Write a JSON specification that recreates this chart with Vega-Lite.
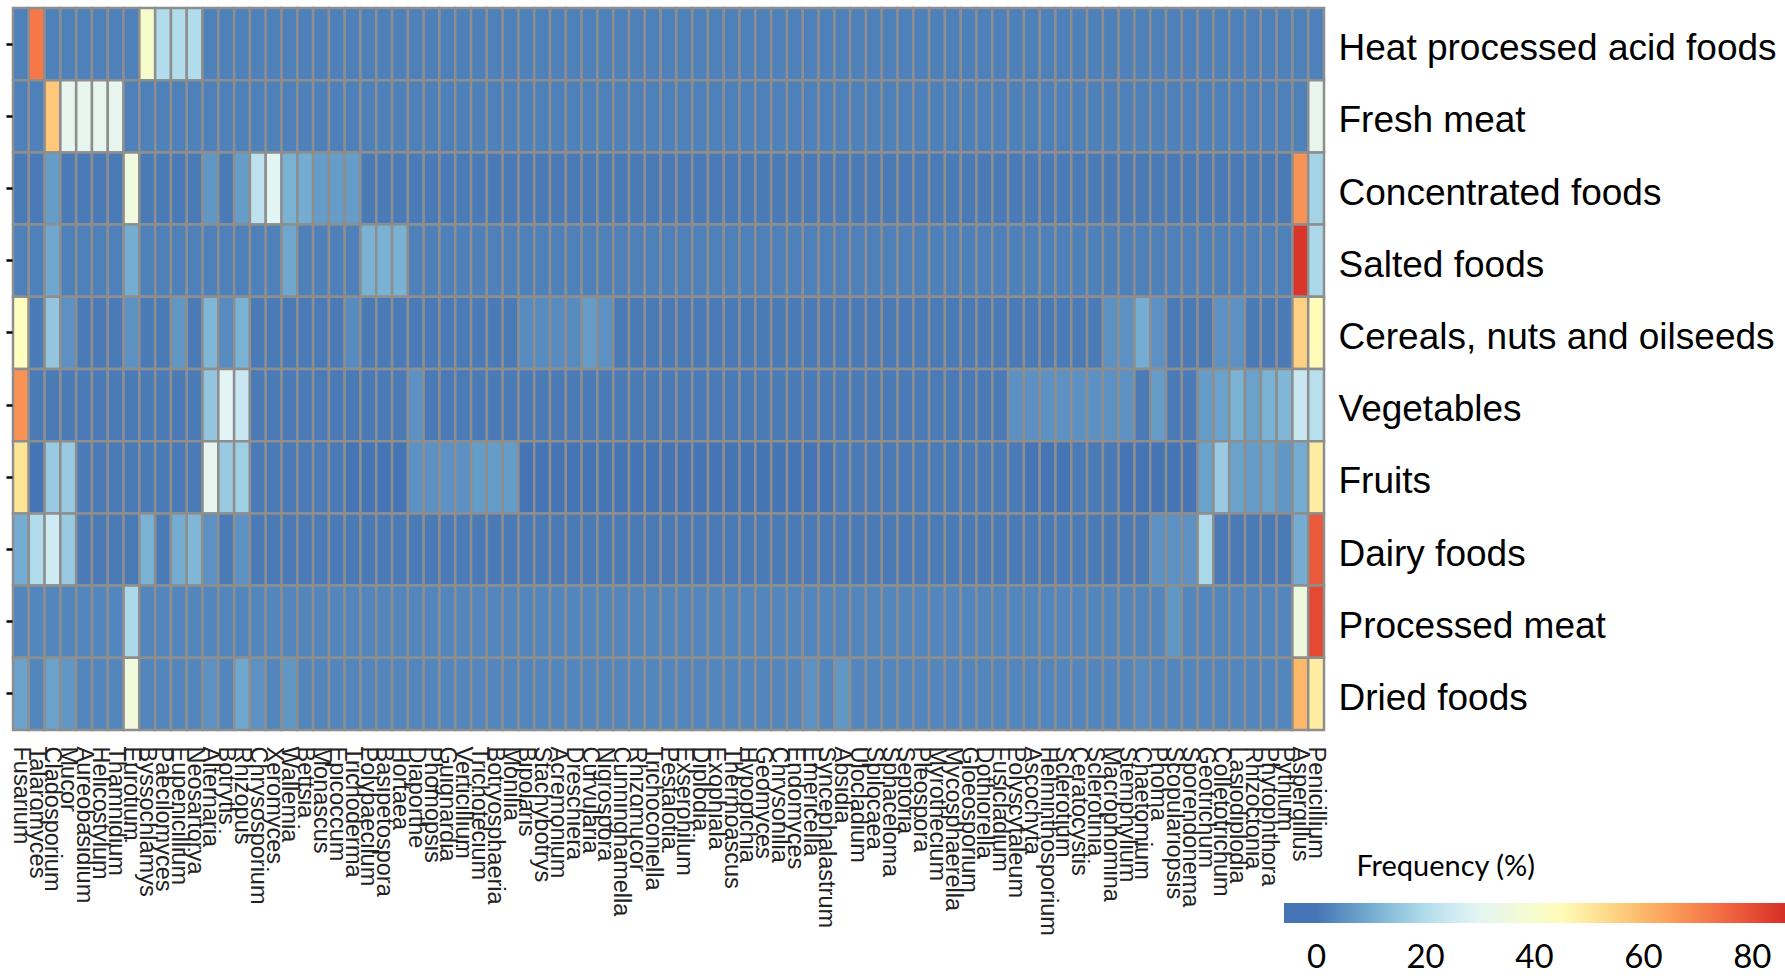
{
"$schema": "https://vega.github.io/schema/vega-lite/v6.json",
"width": 1311, "height": 722,
"autosize": {"type": "none"},
"padding": {"left": 13, "top": 8, "right": 461, "bottom": 246},
"background": "white",
"config": {"view": {"stroke": null}, "font": "Liberation Sans"},
"datasets": {"foods": [
{"f":1,"food":"Heat processed acid foods"},{"f":2,"food":"Fresh meat"},{"f":3,"food":"Concentrated foods"},{"f":4,"food":"Salted foods"},{"f":5,"food":"Cereals, nuts and oilseeds"},{"f":6,"food":"Vegetables"},{"f":7,"food":"Fruits"},{"f":8,"food":"Dairy foods"},{"f":9,"food":"Processed meat"},{"f":10,"food":"Dried foods"}
]},
"data": {"values": [
{"f":1,"genus":"Fusarium","pct":2},{"f":1,"genus":"Talaromyces","pct":72},{"f":1,"genus":"Cladosporium","pct":2},{"f":1,"genus":"Mucor","pct":2},{"f":1,"genus":"Aureobasidium","pct":2},{"f":1,"genus":"Helicostylum","pct":2},{"f":1,"genus":"Thamnidium","pct":2},{"f":1,"genus":"Eurotium","pct":2},{"f":1,"genus":"Byssochlamys","pct":40},{"f":1,"genus":"Paecilomyces","pct":20},{"f":1,"genus":"Eupenicillium","pct":20},{"f":1,"genus":"Neosartorya","pct":20},{"f":1,"genus":"Alternaria","pct":2},{"f":1,"genus":"Botrytis","pct":2},{"f":1,"genus":"Rhizopus","pct":2},{"f":1,"genus":"Chrysosporium","pct":2},{"f":1,"genus":"Xeromyces","pct":2},{"f":1,"genus":"Wallemia","pct":2},{"f":1,"genus":"Bettsia","pct":2},{"f":1,"genus":"Monascus","pct":2},{"f":1,"genus":"Epicoccum","pct":2},{"f":1,"genus":"Trichoderma","pct":2},{"f":1,"genus":"Polypaecilum","pct":2},{"f":1,"genus":"Basipetospora","pct":2},{"f":1,"genus":"Hortaea","pct":2},{"f":1,"genus":"Diaporthe","pct":2},{"f":1,"genus":"Phomopsis","pct":2},{"f":1,"genus":"Guignardia","pct":2},{"f":1,"genus":"Verticillium","pct":2},{"f":1,"genus":"Trichotecium","pct":2},{"f":1,"genus":"Botryosphaeria","pct":2},{"f":1,"genus":"Monilia","pct":2},{"f":1,"genus":"Bipolaris","pct":2},{"f":1,"genus":"Stachybotrys","pct":2},{"f":1,"genus":"Acremonium","pct":2},{"f":1,"genus":"Dreschiera","pct":2},{"f":1,"genus":"Curvularia","pct":2},{"f":1,"genus":"Nigrospora","pct":2},{"f":1,"genus":"Cunninghamella","pct":2},{"f":1,"genus":"Rhizomucor","pct":2},{"f":1,"genus":"Trichoconiella","pct":2},{"f":1,"genus":"Pestalotia","pct":2},{"f":1,"genus":"Exserohilum","pct":2},{"f":1,"genus":"Diplodia","pct":2},{"f":1,"genus":"Exophiala","pct":2},{"f":1,"genus":"Thermoascus","pct":2},{"f":1,"genus":"Hypopichia","pct":2},{"f":1,"genus":"Geomyces","pct":2},{"f":1,"genus":"Chrysonilia","pct":2},{"f":1,"genus":"Endomyces","pct":2},{"f":1,"genus":"Emericella","pct":2},{"f":1,"genus":"Syncephalastrum","pct":2},{"f":1,"genus":"Absidia","pct":2},{"f":1,"genus":"Ulocladium","pct":2},{"f":1,"genus":"Spilocaea","pct":2},{"f":1,"genus":"Sphaceloma","pct":2},{"f":1,"genus":"Septoria","pct":2},{"f":1,"genus":"Pleospora","pct":2},{"f":1,"genus":"Myrothecium","pct":2},{"f":1,"genus":"Mycosphaerella","pct":2},{"f":1,"genus":"Gloeosporium","pct":2},{"f":1,"genus":"Dothiorella","pct":2},{"f":1,"genus":"Fusicladium","pct":2},{"f":1,"genus":"Polyscytaleum","pct":2},{"f":1,"genus":"Ascochyta","pct":2},{"f":1,"genus":"Helminthosporium","pct":2},{"f":1,"genus":"Sclerotium","pct":2},{"f":1,"genus":"Ceratocystis","pct":2},{"f":1,"genus":"Sclerotinia","pct":2},{"f":1,"genus":"Macrophomina","pct":2},{"f":1,"genus":"Stemphylium","pct":2},{"f":1,"genus":"Chaetomium","pct":2},{"f":1,"genus":"Phoma","pct":2},{"f":1,"genus":"Scopulariopsis","pct":2},{"f":1,"genus":"Sporendonema","pct":2},{"f":1,"genus":"Geotrichum","pct":2},{"f":1,"genus":"Colletotrichum","pct":2},{"f":1,"genus":"Lasiodiplodia","pct":2},{"f":1,"genus":"Rhizoctonia","pct":2},{"f":1,"genus":"Phytophthora","pct":2},{"f":1,"genus":"Pythium","pct":2},{"f":1,"genus":"Aspergillus","pct":2},{"f":1,"genus":"Penicillium","pct":2},
{"f":2,"genus":"Fusarium","pct":2},{"f":2,"genus":"Talaromyces","pct":2},{"f":2,"genus":"Cladosporium","pct":57},{"f":2,"genus":"Mucor","pct":31},{"f":2,"genus":"Aureobasidium","pct":31},{"f":2,"genus":"Helicostylum","pct":31},{"f":2,"genus":"Thamnidium","pct":31},{"f":2,"genus":"Eurotium","pct":2},{"f":2,"genus":"Byssochlamys","pct":2},{"f":2,"genus":"Paecilomyces","pct":2},{"f":2,"genus":"Eupenicillium","pct":2},{"f":2,"genus":"Neosartorya","pct":2},{"f":2,"genus":"Alternaria","pct":2},{"f":2,"genus":"Botrytis","pct":2},{"f":2,"genus":"Rhizopus","pct":2},{"f":2,"genus":"Chrysosporium","pct":2},{"f":2,"genus":"Xeromyces","pct":2},{"f":2,"genus":"Wallemia","pct":2},{"f":2,"genus":"Bettsia","pct":2},{"f":2,"genus":"Monascus","pct":2},{"f":2,"genus":"Epicoccum","pct":2},{"f":2,"genus":"Trichoderma","pct":2},{"f":2,"genus":"Polypaecilum","pct":2},{"f":2,"genus":"Basipetospora","pct":2},{"f":2,"genus":"Hortaea","pct":2},{"f":2,"genus":"Diaporthe","pct":2},{"f":2,"genus":"Phomopsis","pct":2},{"f":2,"genus":"Guignardia","pct":2},{"f":2,"genus":"Verticillium","pct":2},{"f":2,"genus":"Trichotecium","pct":2},{"f":2,"genus":"Botryosphaeria","pct":2},{"f":2,"genus":"Monilia","pct":2},{"f":2,"genus":"Bipolaris","pct":2},{"f":2,"genus":"Stachybotrys","pct":2},{"f":2,"genus":"Acremonium","pct":2},{"f":2,"genus":"Dreschiera","pct":2},{"f":2,"genus":"Curvularia","pct":2},{"f":2,"genus":"Nigrospora","pct":2},{"f":2,"genus":"Cunninghamella","pct":2},{"f":2,"genus":"Rhizomucor","pct":2},{"f":2,"genus":"Trichoconiella","pct":2},{"f":2,"genus":"Pestalotia","pct":2},{"f":2,"genus":"Exserohilum","pct":2},{"f":2,"genus":"Diplodia","pct":2},{"f":2,"genus":"Exophiala","pct":2},{"f":2,"genus":"Thermoascus","pct":2},{"f":2,"genus":"Hypopichia","pct":2},{"f":2,"genus":"Geomyces","pct":2},{"f":2,"genus":"Chrysonilia","pct":2},{"f":2,"genus":"Endomyces","pct":2},{"f":2,"genus":"Emericella","pct":2},{"f":2,"genus":"Syncephalastrum","pct":2},{"f":2,"genus":"Absidia","pct":2},{"f":2,"genus":"Ulocladium","pct":2},{"f":2,"genus":"Spilocaea","pct":2},{"f":2,"genus":"Sphaceloma","pct":2},{"f":2,"genus":"Septoria","pct":2},{"f":2,"genus":"Pleospora","pct":2},{"f":2,"genus":"Myrothecium","pct":2},{"f":2,"genus":"Mycosphaerella","pct":2},{"f":2,"genus":"Gloeosporium","pct":2},{"f":2,"genus":"Dothiorella","pct":2},{"f":2,"genus":"Fusicladium","pct":2},{"f":2,"genus":"Polyscytaleum","pct":2},{"f":2,"genus":"Ascochyta","pct":2},{"f":2,"genus":"Helminthosporium","pct":2},{"f":2,"genus":"Sclerotium","pct":2},{"f":2,"genus":"Ceratocystis","pct":2},{"f":2,"genus":"Sclerotinia","pct":2},{"f":2,"genus":"Macrophomina","pct":2},{"f":2,"genus":"Stemphylium","pct":2},{"f":2,"genus":"Chaetomium","pct":2},{"f":2,"genus":"Phoma","pct":2},{"f":2,"genus":"Scopulariopsis","pct":2},{"f":2,"genus":"Sporendonema","pct":2},{"f":2,"genus":"Geotrichum","pct":2},{"f":2,"genus":"Colletotrichum","pct":2},{"f":2,"genus":"Lasiodiplodia","pct":2},{"f":2,"genus":"Rhizoctonia","pct":2},{"f":2,"genus":"Phytophthora","pct":2},{"f":2,"genus":"Pythium","pct":2},{"f":2,"genus":"Aspergillus","pct":2},{"f":2,"genus":"Penicillium","pct":31},
{"f":3,"genus":"Fusarium","pct":1},{"f":3,"genus":"Talaromyces","pct":1},{"f":3,"genus":"Cladosporium","pct":7},{"f":3,"genus":"Mucor","pct":1},{"f":3,"genus":"Aureobasidium","pct":1},{"f":3,"genus":"Helicostylum","pct":1},{"f":3,"genus":"Thamnidium","pct":1},{"f":3,"genus":"Eurotium","pct":36},{"f":3,"genus":"Byssochlamys","pct":1},{"f":3,"genus":"Paecilomyces","pct":1},{"f":3,"genus":"Eupenicillium","pct":1},{"f":3,"genus":"Neosartorya","pct":1},{"f":3,"genus":"Alternaria","pct":6},{"f":3,"genus":"Botrytis","pct":1},{"f":3,"genus":"Rhizopus","pct":7},{"f":3,"genus":"Chrysosporium","pct":22},{"f":3,"genus":"Xeromyces","pct":29},{"f":3,"genus":"Wallemia","pct":11},{"f":3,"genus":"Bettsia","pct":10},{"f":3,"genus":"Monascus","pct":7},{"f":3,"genus":"Epicoccum","pct":7},{"f":3,"genus":"Trichoderma","pct":7},{"f":3,"genus":"Polypaecilum","pct":1},{"f":3,"genus":"Basipetospora","pct":1},{"f":3,"genus":"Hortaea","pct":1},{"f":3,"genus":"Diaporthe","pct":1},{"f":3,"genus":"Phomopsis","pct":1},{"f":3,"genus":"Guignardia","pct":1},{"f":3,"genus":"Verticillium","pct":1},{"f":3,"genus":"Trichotecium","pct":1},{"f":3,"genus":"Botryosphaeria","pct":1},{"f":3,"genus":"Monilia","pct":1},{"f":3,"genus":"Bipolaris","pct":1},{"f":3,"genus":"Stachybotrys","pct":1},{"f":3,"genus":"Acremonium","pct":1},{"f":3,"genus":"Dreschiera","pct":1},{"f":3,"genus":"Curvularia","pct":1},{"f":3,"genus":"Nigrospora","pct":1},{"f":3,"genus":"Cunninghamella","pct":1},{"f":3,"genus":"Rhizomucor","pct":1},{"f":3,"genus":"Trichoconiella","pct":1},{"f":3,"genus":"Pestalotia","pct":1},{"f":3,"genus":"Exserohilum","pct":1},{"f":3,"genus":"Diplodia","pct":1},{"f":3,"genus":"Exophiala","pct":1},{"f":3,"genus":"Thermoascus","pct":1},{"f":3,"genus":"Hypopichia","pct":1},{"f":3,"genus":"Geomyces","pct":1},{"f":3,"genus":"Chrysonilia","pct":1},{"f":3,"genus":"Endomyces","pct":1},{"f":3,"genus":"Emericella","pct":1},{"f":3,"genus":"Syncephalastrum","pct":1},{"f":3,"genus":"Absidia","pct":1},{"f":3,"genus":"Ulocladium","pct":1},{"f":3,"genus":"Spilocaea","pct":1},{"f":3,"genus":"Sphaceloma","pct":1},{"f":3,"genus":"Septoria","pct":1},{"f":3,"genus":"Pleospora","pct":1},{"f":3,"genus":"Myrothecium","pct":1},{"f":3,"genus":"Mycosphaerella","pct":1},{"f":3,"genus":"Gloeosporium","pct":1},{"f":3,"genus":"Dothiorella","pct":1},{"f":3,"genus":"Fusicladium","pct":1},{"f":3,"genus":"Polyscytaleum","pct":1},{"f":3,"genus":"Ascochyta","pct":1},{"f":3,"genus":"Helminthosporium","pct":1},{"f":3,"genus":"Sclerotium","pct":1},{"f":3,"genus":"Ceratocystis","pct":1},{"f":3,"genus":"Sclerotinia","pct":1},{"f":3,"genus":"Macrophomina","pct":1},{"f":3,"genus":"Stemphylium","pct":1},{"f":3,"genus":"Chaetomium","pct":1},{"f":3,"genus":"Phoma","pct":1},{"f":3,"genus":"Scopulariopsis","pct":1},{"f":3,"genus":"Sporendonema","pct":1},{"f":3,"genus":"Geotrichum","pct":1},{"f":3,"genus":"Colletotrichum","pct":1},{"f":3,"genus":"Lasiodiplodia","pct":1},{"f":3,"genus":"Rhizoctonia","pct":1},{"f":3,"genus":"Phytophthora","pct":1},{"f":3,"genus":"Pythium","pct":1},{"f":3,"genus":"Aspergillus","pct":67},{"f":3,"genus":"Penicillium","pct":18},
{"f":4,"genus":"Fusarium","pct":2},{"f":4,"genus":"Talaromyces","pct":2},{"f":4,"genus":"Cladosporium","pct":9},{"f":4,"genus":"Mucor","pct":2},{"f":4,"genus":"Aureobasidium","pct":2},{"f":4,"genus":"Helicostylum","pct":2},{"f":4,"genus":"Thamnidium","pct":2},{"f":4,"genus":"Eurotium","pct":10},{"f":4,"genus":"Byssochlamys","pct":2},{"f":4,"genus":"Paecilomyces","pct":2},{"f":4,"genus":"Eupenicillium","pct":2},{"f":4,"genus":"Neosartorya","pct":2},{"f":4,"genus":"Alternaria","pct":2},{"f":4,"genus":"Botrytis","pct":2},{"f":4,"genus":"Rhizopus","pct":2},{"f":4,"genus":"Chrysosporium","pct":2},{"f":4,"genus":"Xeromyces","pct":2},{"f":4,"genus":"Wallemia","pct":9},{"f":4,"genus":"Bettsia","pct":2},{"f":4,"genus":"Monascus","pct":2},{"f":4,"genus":"Epicoccum","pct":2},{"f":4,"genus":"Trichoderma","pct":2},{"f":4,"genus":"Polypaecilum","pct":11},{"f":4,"genus":"Basipetospora","pct":11},{"f":4,"genus":"Hortaea","pct":11},{"f":4,"genus":"Diaporthe","pct":2},{"f":4,"genus":"Phomopsis","pct":2},{"f":4,"genus":"Guignardia","pct":2},{"f":4,"genus":"Verticillium","pct":2},{"f":4,"genus":"Trichotecium","pct":2},{"f":4,"genus":"Botryosphaeria","pct":2},{"f":4,"genus":"Monilia","pct":2},{"f":4,"genus":"Bipolaris","pct":2},{"f":4,"genus":"Stachybotrys","pct":2},{"f":4,"genus":"Acremonium","pct":2},{"f":4,"genus":"Dreschiera","pct":2},{"f":4,"genus":"Curvularia","pct":2},{"f":4,"genus":"Nigrospora","pct":2},{"f":4,"genus":"Cunninghamella","pct":2},{"f":4,"genus":"Rhizomucor","pct":2},{"f":4,"genus":"Trichoconiella","pct":2},{"f":4,"genus":"Pestalotia","pct":2},{"f":4,"genus":"Exserohilum","pct":2},{"f":4,"genus":"Diplodia","pct":2},{"f":4,"genus":"Exophiala","pct":2},{"f":4,"genus":"Thermoascus","pct":2},{"f":4,"genus":"Hypopichia","pct":2},{"f":4,"genus":"Geomyces","pct":2},{"f":4,"genus":"Chrysonilia","pct":2},{"f":4,"genus":"Endomyces","pct":2},{"f":4,"genus":"Emericella","pct":2},{"f":4,"genus":"Syncephalastrum","pct":2},{"f":4,"genus":"Absidia","pct":2},{"f":4,"genus":"Ulocladium","pct":2},{"f":4,"genus":"Spilocaea","pct":2},{"f":4,"genus":"Sphaceloma","pct":2},{"f":4,"genus":"Septoria","pct":2},{"f":4,"genus":"Pleospora","pct":2},{"f":4,"genus":"Myrothecium","pct":2},{"f":4,"genus":"Mycosphaerella","pct":2},{"f":4,"genus":"Gloeosporium","pct":2},{"f":4,"genus":"Dothiorella","pct":2},{"f":4,"genus":"Fusicladium","pct":2},{"f":4,"genus":"Polyscytaleum","pct":2},{"f":4,"genus":"Ascochyta","pct":2},{"f":4,"genus":"Helminthosporium","pct":2},{"f":4,"genus":"Sclerotium","pct":2},{"f":4,"genus":"Ceratocystis","pct":2},{"f":4,"genus":"Sclerotinia","pct":2},{"f":4,"genus":"Macrophomina","pct":2},{"f":4,"genus":"Stemphylium","pct":2},{"f":4,"genus":"Chaetomium","pct":2},{"f":4,"genus":"Phoma","pct":2},{"f":4,"genus":"Scopulariopsis","pct":2},{"f":4,"genus":"Sporendonema","pct":2},{"f":4,"genus":"Geotrichum","pct":2},{"f":4,"genus":"Colletotrichum","pct":2},{"f":4,"genus":"Lasiodiplodia","pct":2},{"f":4,"genus":"Rhizoctonia","pct":2},{"f":4,"genus":"Phytophthora","pct":2},{"f":4,"genus":"Pythium","pct":2},{"f":4,"genus":"Aspergillus","pct":85},{"f":4,"genus":"Penicillium","pct":19},
{"f":5,"genus":"Fusarium","pct":44},{"f":5,"genus":"Talaromyces","pct":1},{"f":5,"genus":"Cladosporium","pct":15},{"f":5,"genus":"Mucor","pct":5},{"f":5,"genus":"Aureobasidium","pct":1},{"f":5,"genus":"Helicostylum","pct":1},{"f":5,"genus":"Thamnidium","pct":1},{"f":5,"genus":"Eurotium","pct":5},{"f":5,"genus":"Byssochlamys","pct":1},{"f":5,"genus":"Paecilomyces","pct":1},{"f":5,"genus":"Eupenicillium","pct":6},{"f":5,"genus":"Neosartorya","pct":1},{"f":5,"genus":"Alternaria","pct":12},{"f":5,"genus":"Botrytis","pct":4},{"f":5,"genus":"Rhizopus","pct":11},{"f":5,"genus":"Chrysosporium","pct":1},{"f":5,"genus":"Xeromyces","pct":1},{"f":5,"genus":"Wallemia","pct":1},{"f":5,"genus":"Bettsia","pct":1},{"f":5,"genus":"Monascus","pct":1},{"f":5,"genus":"Epicoccum","pct":1},{"f":5,"genus":"Trichoderma","pct":4},{"f":5,"genus":"Polypaecilum","pct":1},{"f":5,"genus":"Basipetospora","pct":1},{"f":5,"genus":"Hortaea","pct":1},{"f":5,"genus":"Diaporthe","pct":1},{"f":5,"genus":"Phomopsis","pct":1},{"f":5,"genus":"Guignardia","pct":1},{"f":5,"genus":"Verticillium","pct":1},{"f":5,"genus":"Trichotecium","pct":1},{"f":5,"genus":"Botryosphaeria","pct":1},{"f":5,"genus":"Monilia","pct":1},{"f":5,"genus":"Bipolaris","pct":4},{"f":5,"genus":"Stachybotrys","pct":4},{"f":5,"genus":"Acremonium","pct":4},{"f":5,"genus":"Dreschiera","pct":4},{"f":5,"genus":"Curvularia","pct":7},{"f":5,"genus":"Nigrospora","pct":5},{"f":5,"genus":"Cunninghamella","pct":1},{"f":5,"genus":"Rhizomucor","pct":1},{"f":5,"genus":"Trichoconiella","pct":1},{"f":5,"genus":"Pestalotia","pct":1},{"f":5,"genus":"Exserohilum","pct":1},{"f":5,"genus":"Diplodia","pct":1},{"f":5,"genus":"Exophiala","pct":1},{"f":5,"genus":"Thermoascus","pct":1},{"f":5,"genus":"Hypopichia","pct":1},{"f":5,"genus":"Geomyces","pct":1},{"f":5,"genus":"Chrysonilia","pct":1},{"f":5,"genus":"Endomyces","pct":1},{"f":5,"genus":"Emericella","pct":1},{"f":5,"genus":"Syncephalastrum","pct":1},{"f":5,"genus":"Absidia","pct":1},{"f":5,"genus":"Ulocladium","pct":1},{"f":5,"genus":"Spilocaea","pct":1},{"f":5,"genus":"Sphaceloma","pct":1},{"f":5,"genus":"Septoria","pct":1},{"f":5,"genus":"Pleospora","pct":1},{"f":5,"genus":"Myrothecium","pct":1},{"f":5,"genus":"Mycosphaerella","pct":1},{"f":5,"genus":"Gloeosporium","pct":1},{"f":5,"genus":"Dothiorella","pct":1},{"f":5,"genus":"Fusicladium","pct":1},{"f":5,"genus":"Polyscytaleum","pct":1},{"f":5,"genus":"Ascochyta","pct":1},{"f":5,"genus":"Helminthosporium","pct":1},{"f":5,"genus":"Sclerotium","pct":1},{"f":5,"genus":"Ceratocystis","pct":1},{"f":5,"genus":"Sclerotinia","pct":1},{"f":5,"genus":"Macrophomina","pct":5},{"f":5,"genus":"Stemphylium","pct":5},{"f":5,"genus":"Chaetomium","pct":10},{"f":5,"genus":"Phoma","pct":5},{"f":5,"genus":"Scopulariopsis","pct":1},{"f":5,"genus":"Sporendonema","pct":1},{"f":5,"genus":"Geotrichum","pct":1},{"f":5,"genus":"Colletotrichum","pct":5},{"f":5,"genus":"Lasiodiplodia","pct":5},{"f":5,"genus":"Rhizoctonia","pct":1},{"f":5,"genus":"Phytophthora","pct":1},{"f":5,"genus":"Pythium","pct":1},{"f":5,"genus":"Aspergillus","pct":55},{"f":5,"genus":"Penicillium","pct":45},
{"f":6,"genus":"Fusarium","pct":67},{"f":6,"genus":"Talaromyces","pct":1},{"f":6,"genus":"Cladosporium","pct":1},{"f":6,"genus":"Mucor","pct":1},{"f":6,"genus":"Aureobasidium","pct":1},{"f":6,"genus":"Helicostylum","pct":1},{"f":6,"genus":"Thamnidium","pct":1},{"f":6,"genus":"Eurotium","pct":1},{"f":6,"genus":"Byssochlamys","pct":1},{"f":6,"genus":"Paecilomyces","pct":1},{"f":6,"genus":"Eupenicillium","pct":1},{"f":6,"genus":"Neosartorya","pct":1},{"f":6,"genus":"Alternaria","pct":15},{"f":6,"genus":"Botrytis","pct":29},{"f":6,"genus":"Rhizopus","pct":24},{"f":6,"genus":"Chrysosporium","pct":1},{"f":6,"genus":"Xeromyces","pct":1},{"f":6,"genus":"Wallemia","pct":1},{"f":6,"genus":"Bettsia","pct":1},{"f":6,"genus":"Monascus","pct":1},{"f":6,"genus":"Epicoccum","pct":1},{"f":6,"genus":"Trichoderma","pct":1},{"f":6,"genus":"Polypaecilum","pct":1},{"f":6,"genus":"Basipetospora","pct":1},{"f":6,"genus":"Hortaea","pct":1},{"f":6,"genus":"Diaporthe","pct":5},{"f":6,"genus":"Phomopsis","pct":1},{"f":6,"genus":"Guignardia","pct":1},{"f":6,"genus":"Verticillium","pct":1},{"f":6,"genus":"Trichotecium","pct":1},{"f":6,"genus":"Botryosphaeria","pct":1},{"f":6,"genus":"Monilia","pct":1},{"f":6,"genus":"Bipolaris","pct":1},{"f":6,"genus":"Stachybotrys","pct":1},{"f":6,"genus":"Acremonium","pct":1},{"f":6,"genus":"Dreschiera","pct":1},{"f":6,"genus":"Curvularia","pct":1},{"f":6,"genus":"Nigrospora","pct":1},{"f":6,"genus":"Cunninghamella","pct":1},{"f":6,"genus":"Rhizomucor","pct":1},{"f":6,"genus":"Trichoconiella","pct":1},{"f":6,"genus":"Pestalotia","pct":1},{"f":6,"genus":"Exserohilum","pct":1},{"f":6,"genus":"Diplodia","pct":1},{"f":6,"genus":"Exophiala","pct":1},{"f":6,"genus":"Thermoascus","pct":1},{"f":6,"genus":"Hypopichia","pct":1},{"f":6,"genus":"Geomyces","pct":1},{"f":6,"genus":"Chrysonilia","pct":1},{"f":6,"genus":"Endomyces","pct":1},{"f":6,"genus":"Emericella","pct":1},{"f":6,"genus":"Syncephalastrum","pct":1},{"f":6,"genus":"Absidia","pct":1},{"f":6,"genus":"Ulocladium","pct":1},{"f":6,"genus":"Spilocaea","pct":1},{"f":6,"genus":"Sphaceloma","pct":1},{"f":6,"genus":"Septoria","pct":1},{"f":6,"genus":"Pleospora","pct":1},{"f":6,"genus":"Myrothecium","pct":1},{"f":6,"genus":"Mycosphaerella","pct":1},{"f":6,"genus":"Gloeosporium","pct":1},{"f":6,"genus":"Dothiorella","pct":1},{"f":6,"genus":"Fusicladium","pct":1},{"f":6,"genus":"Polyscytaleum","pct":5},{"f":6,"genus":"Ascochyta","pct":5},{"f":6,"genus":"Helminthosporium","pct":5},{"f":6,"genus":"Sclerotium","pct":5},{"f":6,"genus":"Ceratocystis","pct":5},{"f":6,"genus":"Sclerotinia","pct":5},{"f":6,"genus":"Macrophomina","pct":5},{"f":6,"genus":"Stemphylium","pct":5},{"f":6,"genus":"Chaetomium","pct":1},{"f":6,"genus":"Phoma","pct":7},{"f":6,"genus":"Scopulariopsis","pct":1},{"f":6,"genus":"Sporendonema","pct":1},{"f":6,"genus":"Geotrichum","pct":7},{"f":6,"genus":"Colletotrichum","pct":8},{"f":6,"genus":"Lasiodiplodia","pct":11},{"f":6,"genus":"Rhizoctonia","pct":8},{"f":6,"genus":"Phytophthora","pct":11},{"f":6,"genus":"Pythium","pct":12},{"f":6,"genus":"Aspergillus","pct":24},{"f":6,"genus":"Penicillium","pct":21},
{"f":7,"genus":"Fusarium","pct":51},{"f":7,"genus":"Talaromyces","pct":0},{"f":7,"genus":"Cladosporium","pct":16},{"f":7,"genus":"Mucor","pct":16},{"f":7,"genus":"Aureobasidium","pct":1},{"f":7,"genus":"Helicostylum","pct":1},{"f":7,"genus":"Thamnidium","pct":1},{"f":7,"genus":"Eurotium","pct":1},{"f":7,"genus":"Byssochlamys","pct":1},{"f":7,"genus":"Paecilomyces","pct":1},{"f":7,"genus":"Eupenicillium","pct":1},{"f":7,"genus":"Neosartorya","pct":1},{"f":7,"genus":"Alternaria","pct":31},{"f":7,"genus":"Botrytis","pct":16},{"f":7,"genus":"Rhizopus","pct":17},{"f":7,"genus":"Chrysosporium","pct":1},{"f":7,"genus":"Xeromyces","pct":1},{"f":7,"genus":"Wallemia","pct":1},{"f":7,"genus":"Bettsia","pct":1},{"f":7,"genus":"Monascus","pct":1},{"f":7,"genus":"Epicoccum","pct":1},{"f":7,"genus":"Trichoderma","pct":0},{"f":7,"genus":"Polypaecilum","pct":0},{"f":7,"genus":"Basipetospora","pct":0},{"f":7,"genus":"Hortaea","pct":0},{"f":7,"genus":"Diaporthe","pct":5},{"f":7,"genus":"Phomopsis","pct":5},{"f":7,"genus":"Guignardia","pct":5},{"f":7,"genus":"Verticillium","pct":5},{"f":7,"genus":"Trichotecium","pct":7},{"f":7,"genus":"Botryosphaeria","pct":7},{"f":7,"genus":"Monilia","pct":7},{"f":7,"genus":"Bipolaris","pct":0},{"f":7,"genus":"Stachybotrys","pct":0},{"f":7,"genus":"Acremonium","pct":0},{"f":7,"genus":"Dreschiera","pct":0},{"f":7,"genus":"Curvularia","pct":0},{"f":7,"genus":"Nigrospora","pct":0},{"f":7,"genus":"Cunninghamella","pct":0},{"f":7,"genus":"Rhizomucor","pct":0},{"f":7,"genus":"Trichoconiella","pct":0},{"f":7,"genus":"Pestalotia","pct":0},{"f":7,"genus":"Exserohilum","pct":0},{"f":7,"genus":"Diplodia","pct":0},{"f":7,"genus":"Exophiala","pct":0},{"f":7,"genus":"Thermoascus","pct":0},{"f":7,"genus":"Hypopichia","pct":0},{"f":7,"genus":"Geomyces","pct":0},{"f":7,"genus":"Chrysonilia","pct":0},{"f":7,"genus":"Endomyces","pct":0},{"f":7,"genus":"Emericella","pct":0},{"f":7,"genus":"Syncephalastrum","pct":0},{"f":7,"genus":"Absidia","pct":1},{"f":7,"genus":"Ulocladium","pct":1},{"f":7,"genus":"Spilocaea","pct":1},{"f":7,"genus":"Sphaceloma","pct":1},{"f":7,"genus":"Septoria","pct":1},{"f":7,"genus":"Pleospora","pct":1},{"f":7,"genus":"Myrothecium","pct":1},{"f":7,"genus":"Mycosphaerella","pct":1},{"f":7,"genus":"Gloeosporium","pct":1},{"f":7,"genus":"Dothiorella","pct":1},{"f":7,"genus":"Fusicladium","pct":1},{"f":7,"genus":"Polyscytaleum","pct":1},{"f":7,"genus":"Ascochyta","pct":0},{"f":7,"genus":"Helminthosporium","pct":0},{"f":7,"genus":"Sclerotium","pct":0},{"f":7,"genus":"Ceratocystis","pct":1},{"f":7,"genus":"Sclerotinia","pct":1},{"f":7,"genus":"Macrophomina","pct":1},{"f":7,"genus":"Stemphylium","pct":0},{"f":7,"genus":"Chaetomium","pct":0},{"f":7,"genus":"Phoma","pct":0},{"f":7,"genus":"Scopulariopsis","pct":0},{"f":7,"genus":"Sporendonema","pct":0},{"f":7,"genus":"Geotrichum","pct":8},{"f":7,"genus":"Colletotrichum","pct":16},{"f":7,"genus":"Lasiodiplodia","pct":8},{"f":7,"genus":"Rhizoctonia","pct":7},{"f":7,"genus":"Phytophthora","pct":8},{"f":7,"genus":"Pythium","pct":6},{"f":7,"genus":"Aspergillus","pct":10},{"f":7,"genus":"Penicillium","pct":49},
{"f":8,"genus":"Fusarium","pct":10},{"f":8,"genus":"Talaromyces","pct":20},{"f":8,"genus":"Cladosporium","pct":25},{"f":8,"genus":"Mucor","pct":16},{"f":8,"genus":"Aureobasidium","pct":1},{"f":8,"genus":"Helicostylum","pct":1},{"f":8,"genus":"Thamnidium","pct":1},{"f":8,"genus":"Eurotium","pct":1},{"f":8,"genus":"Byssochlamys","pct":11},{"f":8,"genus":"Paecilomyces","pct":1},{"f":8,"genus":"Eupenicillium","pct":10},{"f":8,"genus":"Neosartorya","pct":12},{"f":8,"genus":"Alternaria","pct":5},{"f":8,"genus":"Botrytis","pct":1},{"f":8,"genus":"Rhizopus","pct":5},{"f":8,"genus":"Chrysosporium","pct":1},{"f":8,"genus":"Xeromyces","pct":1},{"f":8,"genus":"Wallemia","pct":1},{"f":8,"genus":"Bettsia","pct":1},{"f":8,"genus":"Monascus","pct":1},{"f":8,"genus":"Epicoccum","pct":1},{"f":8,"genus":"Trichoderma","pct":1},{"f":8,"genus":"Polypaecilum","pct":1},{"f":8,"genus":"Basipetospora","pct":1},{"f":8,"genus":"Hortaea","pct":1},{"f":8,"genus":"Diaporthe","pct":1},{"f":8,"genus":"Phomopsis","pct":1},{"f":8,"genus":"Guignardia","pct":1},{"f":8,"genus":"Verticillium","pct":1},{"f":8,"genus":"Trichotecium","pct":1},{"f":8,"genus":"Botryosphaeria","pct":1},{"f":8,"genus":"Monilia","pct":1},{"f":8,"genus":"Bipolaris","pct":1},{"f":8,"genus":"Stachybotrys","pct":1},{"f":8,"genus":"Acremonium","pct":1},{"f":8,"genus":"Dreschiera","pct":1},{"f":8,"genus":"Curvularia","pct":1},{"f":8,"genus":"Nigrospora","pct":1},{"f":8,"genus":"Cunninghamella","pct":1},{"f":8,"genus":"Rhizomucor","pct":1},{"f":8,"genus":"Trichoconiella","pct":1},{"f":8,"genus":"Pestalotia","pct":1},{"f":8,"genus":"Exserohilum","pct":1},{"f":8,"genus":"Diplodia","pct":1},{"f":8,"genus":"Exophiala","pct":1},{"f":8,"genus":"Thermoascus","pct":1},{"f":8,"genus":"Hypopichia","pct":1},{"f":8,"genus":"Geomyces","pct":1},{"f":8,"genus":"Chrysonilia","pct":1},{"f":8,"genus":"Endomyces","pct":1},{"f":8,"genus":"Emericella","pct":1},{"f":8,"genus":"Syncephalastrum","pct":1},{"f":8,"genus":"Absidia","pct":1},{"f":8,"genus":"Ulocladium","pct":1},{"f":8,"genus":"Spilocaea","pct":1},{"f":8,"genus":"Sphaceloma","pct":1},{"f":8,"genus":"Septoria","pct":1},{"f":8,"genus":"Pleospora","pct":1},{"f":8,"genus":"Myrothecium","pct":1},{"f":8,"genus":"Mycosphaerella","pct":1},{"f":8,"genus":"Gloeosporium","pct":1},{"f":8,"genus":"Dothiorella","pct":1},{"f":8,"genus":"Fusicladium","pct":1},{"f":8,"genus":"Polyscytaleum","pct":1},{"f":8,"genus":"Ascochyta","pct":1},{"f":8,"genus":"Helminthosporium","pct":1},{"f":8,"genus":"Sclerotium","pct":1},{"f":8,"genus":"Ceratocystis","pct":1},{"f":8,"genus":"Sclerotinia","pct":1},{"f":8,"genus":"Macrophomina","pct":1},{"f":8,"genus":"Stemphylium","pct":1},{"f":8,"genus":"Chaetomium","pct":1},{"f":8,"genus":"Phoma","pct":5},{"f":8,"genus":"Scopulariopsis","pct":5},{"f":8,"genus":"Sporendonema","pct":5},{"f":8,"genus":"Geotrichum","pct":19},{"f":8,"genus":"Colletotrichum","pct":1},{"f":8,"genus":"Lasiodiplodia","pct":1},{"f":8,"genus":"Rhizoctonia","pct":1},{"f":8,"genus":"Phytophthora","pct":1},{"f":8,"genus":"Pythium","pct":1},{"f":8,"genus":"Aspergillus","pct":10},{"f":8,"genus":"Penicillium","pct":78},
{"f":9,"genus":"Fusarium","pct":3},{"f":9,"genus":"Talaromyces","pct":3},{"f":9,"genus":"Cladosporium","pct":3},{"f":9,"genus":"Mucor","pct":3},{"f":9,"genus":"Aureobasidium","pct":3},{"f":9,"genus":"Helicostylum","pct":3},{"f":9,"genus":"Thamnidium","pct":3},{"f":9,"genus":"Eurotium","pct":19},{"f":9,"genus":"Byssochlamys","pct":3},{"f":9,"genus":"Paecilomyces","pct":3},{"f":9,"genus":"Eupenicillium","pct":3},{"f":9,"genus":"Neosartorya","pct":3},{"f":9,"genus":"Alternaria","pct":3},{"f":9,"genus":"Botrytis","pct":3},{"f":9,"genus":"Rhizopus","pct":3},{"f":9,"genus":"Chrysosporium","pct":3},{"f":9,"genus":"Xeromyces","pct":3},{"f":9,"genus":"Wallemia","pct":3},{"f":9,"genus":"Bettsia","pct":3},{"f":9,"genus":"Monascus","pct":3},{"f":9,"genus":"Epicoccum","pct":3},{"f":9,"genus":"Trichoderma","pct":3},{"f":9,"genus":"Polypaecilum","pct":3},{"f":9,"genus":"Basipetospora","pct":3},{"f":9,"genus":"Hortaea","pct":3},{"f":9,"genus":"Diaporthe","pct":3},{"f":9,"genus":"Phomopsis","pct":3},{"f":9,"genus":"Guignardia","pct":3},{"f":9,"genus":"Verticillium","pct":3},{"f":9,"genus":"Trichotecium","pct":3},{"f":9,"genus":"Botryosphaeria","pct":3},{"f":9,"genus":"Monilia","pct":3},{"f":9,"genus":"Bipolaris","pct":3},{"f":9,"genus":"Stachybotrys","pct":3},{"f":9,"genus":"Acremonium","pct":3},{"f":9,"genus":"Dreschiera","pct":3},{"f":9,"genus":"Curvularia","pct":3},{"f":9,"genus":"Nigrospora","pct":3},{"f":9,"genus":"Cunninghamella","pct":3},{"f":9,"genus":"Rhizomucor","pct":3},{"f":9,"genus":"Trichoconiella","pct":3},{"f":9,"genus":"Pestalotia","pct":3},{"f":9,"genus":"Exserohilum","pct":3},{"f":9,"genus":"Diplodia","pct":3},{"f":9,"genus":"Exophiala","pct":3},{"f":9,"genus":"Thermoascus","pct":3},{"f":9,"genus":"Hypopichia","pct":3},{"f":9,"genus":"Geomyces","pct":3},{"f":9,"genus":"Chrysonilia","pct":3},{"f":9,"genus":"Endomyces","pct":3},{"f":9,"genus":"Emericella","pct":3},{"f":9,"genus":"Syncephalastrum","pct":3},{"f":9,"genus":"Absidia","pct":3},{"f":9,"genus":"Ulocladium","pct":3},{"f":9,"genus":"Spilocaea","pct":3},{"f":9,"genus":"Sphaceloma","pct":3},{"f":9,"genus":"Septoria","pct":3},{"f":9,"genus":"Pleospora","pct":3},{"f":9,"genus":"Myrothecium","pct":3},{"f":9,"genus":"Mycosphaerella","pct":3},{"f":9,"genus":"Gloeosporium","pct":3},{"f":9,"genus":"Dothiorella","pct":3},{"f":9,"genus":"Fusicladium","pct":3},{"f":9,"genus":"Polyscytaleum","pct":3},{"f":9,"genus":"Ascochyta","pct":3},{"f":9,"genus":"Helminthosporium","pct":3},{"f":9,"genus":"Sclerotium","pct":3},{"f":9,"genus":"Ceratocystis","pct":3},{"f":9,"genus":"Sclerotinia","pct":3},{"f":9,"genus":"Macrophomina","pct":3},{"f":9,"genus":"Stemphylium","pct":3},{"f":9,"genus":"Chaetomium","pct":3},{"f":9,"genus":"Phoma","pct":3},{"f":9,"genus":"Scopulariopsis","pct":6},{"f":9,"genus":"Sporendonema","pct":3},{"f":9,"genus":"Geotrichum","pct":3},{"f":9,"genus":"Colletotrichum","pct":3},{"f":9,"genus":"Lasiodiplodia","pct":3},{"f":9,"genus":"Rhizoctonia","pct":3},{"f":9,"genus":"Phytophthora","pct":3},{"f":9,"genus":"Pythium","pct":3},{"f":9,"genus":"Aspergillus","pct":35},{"f":9,"genus":"Penicillium","pct":81},
{"f":10,"genus":"Fusarium","pct":8},{"f":10,"genus":"Talaromyces","pct":3},{"f":10,"genus":"Cladosporium","pct":8},{"f":10,"genus":"Mucor","pct":6},{"f":10,"genus":"Aureobasidium","pct":3},{"f":10,"genus":"Helicostylum","pct":3},{"f":10,"genus":"Thamnidium","pct":3},{"f":10,"genus":"Eurotium","pct":36},{"f":10,"genus":"Byssochlamys","pct":3},{"f":10,"genus":"Paecilomyces","pct":3},{"f":10,"genus":"Eupenicillium","pct":3},{"f":10,"genus":"Neosartorya","pct":3},{"f":10,"genus":"Alternaria","pct":5},{"f":10,"genus":"Botrytis","pct":3},{"f":10,"genus":"Rhizopus","pct":9},{"f":10,"genus":"Chrysosporium","pct":5},{"f":10,"genus":"Xeromyces","pct":3},{"f":10,"genus":"Wallemia","pct":6},{"f":10,"genus":"Bettsia","pct":3},{"f":10,"genus":"Monascus","pct":3},{"f":10,"genus":"Epicoccum","pct":3},{"f":10,"genus":"Trichoderma","pct":3},{"f":10,"genus":"Polypaecilum","pct":3},{"f":10,"genus":"Basipetospora","pct":3},{"f":10,"genus":"Hortaea","pct":3},{"f":10,"genus":"Diaporthe","pct":3},{"f":10,"genus":"Phomopsis","pct":3},{"f":10,"genus":"Guignardia","pct":3},{"f":10,"genus":"Verticillium","pct":3},{"f":10,"genus":"Trichotecium","pct":3},{"f":10,"genus":"Botryosphaeria","pct":3},{"f":10,"genus":"Monilia","pct":3},{"f":10,"genus":"Bipolaris","pct":3},{"f":10,"genus":"Stachybotrys","pct":3},{"f":10,"genus":"Acremonium","pct":3},{"f":10,"genus":"Dreschiera","pct":3},{"f":10,"genus":"Curvularia","pct":3},{"f":10,"genus":"Nigrospora","pct":3},{"f":10,"genus":"Cunninghamella","pct":3},{"f":10,"genus":"Rhizomucor","pct":3},{"f":10,"genus":"Trichoconiella","pct":3},{"f":10,"genus":"Pestalotia","pct":3},{"f":10,"genus":"Exserohilum","pct":3},{"f":10,"genus":"Diplodia","pct":3},{"f":10,"genus":"Exophiala","pct":3},{"f":10,"genus":"Thermoascus","pct":3},{"f":10,"genus":"Hypopichia","pct":3},{"f":10,"genus":"Geomyces","pct":3},{"f":10,"genus":"Chrysonilia","pct":3},{"f":10,"genus":"Endomyces","pct":3},{"f":10,"genus":"Emericella","pct":5},{"f":10,"genus":"Syncephalastrum","pct":3},{"f":10,"genus":"Absidia","pct":6},{"f":10,"genus":"Ulocladium","pct":3},{"f":10,"genus":"Spilocaea","pct":3},{"f":10,"genus":"Sphaceloma","pct":3},{"f":10,"genus":"Septoria","pct":3},{"f":10,"genus":"Pleospora","pct":3},{"f":10,"genus":"Myrothecium","pct":3},{"f":10,"genus":"Mycosphaerella","pct":3},{"f":10,"genus":"Gloeosporium","pct":3},{"f":10,"genus":"Dothiorella","pct":3},{"f":10,"genus":"Fusicladium","pct":3},{"f":10,"genus":"Polyscytaleum","pct":3},{"f":10,"genus":"Ascochyta","pct":3},{"f":10,"genus":"Helminthosporium","pct":3},{"f":10,"genus":"Sclerotium","pct":3},{"f":10,"genus":"Ceratocystis","pct":3},{"f":10,"genus":"Sclerotinia","pct":3},{"f":10,"genus":"Macrophomina","pct":3},{"f":10,"genus":"Stemphylium","pct":3},{"f":10,"genus":"Chaetomium","pct":4},{"f":10,"genus":"Phoma","pct":3},{"f":10,"genus":"Scopulariopsis","pct":3},{"f":10,"genus":"Sporendonema","pct":3},{"f":10,"genus":"Geotrichum","pct":3},{"f":10,"genus":"Colletotrichum","pct":3},{"f":10,"genus":"Lasiodiplodia","pct":3},{"f":10,"genus":"Rhizoctonia","pct":3},{"f":10,"genus":"Phytophthora","pct":3},{"f":10,"genus":"Pythium","pct":3},{"f":10,"genus":"Aspergillus","pct":60},{"f":10,"genus":"Penicillium","pct":49}
]},
"transform": [{"lookup": "f", "from": {"data": {"name": "foods"}, "key": "f", "fields": ["food"]}}],
"encoding": {
  "x": {"field": "genus", "type": "nominal", "sort": null,
        "scale": {"paddingInner": 0, "paddingOuter": 0},
        "axis": {"title": null, "orient": "bottom", "labelAngle": 90, "labelFont": "Liberation Sans", "labelFontSize": 23.5, "labelPadding": 16,
                 "ticks": false, "domain": false, "labelColor": "#222222", "labelAlign": "left", "labelBaseline": "middle", "labelOverlap": false, "labelLimit": 400}},
  "y": {"field": "food", "type": "nominal", "sort": null,
        "scale": {"paddingInner": 0, "paddingOuter": 0}}
},
"layer": [
  {"mark": {"type": "rect", "stroke": "#8e8e8e", "strokeWidth": 2.5},
   "encoding": {
     "y": {"field": "food", "type": "nominal", "sort": null,
           "axis": {"orient": "left", "title": null, "labels": false, "domain": false, "ticks": true,
                    "tickSize": 6, "tickWidth": 2.5, "tickColor": "black", "offset": 1}},
     "color": {"field": "pct", "type": "quantitative",
               "scale": {"type": "linear", "domain": [-6, 0, 10, 19, 28, 44, 52, 62, 74, 86],
                         "range": ["#4575b4", "#4575b4", "#74add1", "#abd9e9", "#e0f3f8", "#ffffbf", "#fee090", "#fdae61", "#f46d43", "#d73027"],
                         "interpolate": "rgb"},
               "legend": {"orient": "none", "direction": "horizontal", "legendX": 1271, "legendY": 845,
                          "gradientLength": 501, "gradientThickness": 20, "gradientStrokeWidth": 0,
                          "values": [0, 20, 40, 60, 80], "title": "Frequency (%)", "titleFont": "Lato",
                          "titleFontSize": 29, "titleFontWeight": "normal", "titleColor": "black", "titleAnchor": "middle", "titleAlign": "right",
                          "titlePadding": 21, "labelFont": "Lato", "labelFontSize": 33, "labelColor": "black",
                          "labelOffset": 19, "labelAlign": "center", "padding": 0}}
   }},
  {"mark": {"type": "rect", "opacity": 0},
   "encoding": {
     "y": {"field": "food", "type": "nominal", "sort": null,
           "axis": {"orient": "right", "title": null, "labelFont": "Liberation Sans", "labelFontSize": 37, "labelPadding": 14, "labelOffset": 5, "ticks": false,
                    "domain": false, "labelColor": "black", "labelLimit": 700}}
   }}
],
"resolve": {"axis": {"y": "independent"}}
}
